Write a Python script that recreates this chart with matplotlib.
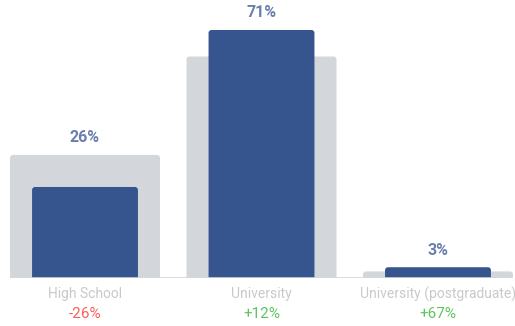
import matplotlib.pyplot as plt
from matplotlib.patches import FancyBboxPatch

plt.rcParams['font.family'] = ['Roboto', 'DejaVu Sans']

categories = ["High School", "University", "University (postgraduate)"]
current = [26, 71, 3]
previous = [35.2, 63.4, 1.8]
changes = ["-26%", "+12%", "+67%"]
change_colors = ["#ff5b5b", "#5cc45c", "#5cc45c"]

BLUE = "#36548e"
GREY = "#d3d6db"

fig = plt.figure(figsize=(5.15, 3.26), dpi=100)
ax = fig.add_axes([10 / 515, (326 - 277.7) / 326, 503 / 515, 277.7 / 326])
ax.set_xlim(-0.425, 2.425)
ax.set_ylim(0, 79.6)

x = range(len(categories))
back = ax.bar(x, previous, width=0.85, color=GREY)
front = ax.bar(x, current, width=0.6, color=BLUE)

# swap the square bars for ones with slightly rounded corners
px_x = 2.85 / 503
px_y = 79.6 / 277.7
for bars, color, z in [(back, GREY, 1), (front, BLUE, 2)]:
    for b in bars:
        b.set_visible(False)
        patch = FancyBboxPatch((b.get_x(), -2), b.get_width(), b.get_height() + 2,
                               boxstyle=f"round,pad=0,rounding_size={3 * px_x}",
                               mutation_aspect=px_y / px_x,
                               facecolor=color, edgecolor="none", zorder=z)
        ax.add_patch(patch)

ax.axhline(0, color="#d3d6db", lw=1.2, zorder=3)

for i in x:
    top = max(current[i], previous[i])
    ax.annotate(f"{current[i]}%", (i, top), xytext=(0, 7), textcoords="offset points",
                ha="center", va="bottom", fontsize=11.5, fontweight="bold", color="#6b7fae")
    ax.annotate(categories[i], (i, 0), xytext=(0, -12), textcoords="offset points",
                ha="center", va="center", fontsize=10, color="#c9c9c9")
    ax.annotate(changes[i], (i, 0), xytext=(0, -26), textcoords="offset points",
                ha="center", va="center", fontsize=11, color=change_colors[i])

ax.axis("off")
fig.savefig("out.png", dpi=100)
